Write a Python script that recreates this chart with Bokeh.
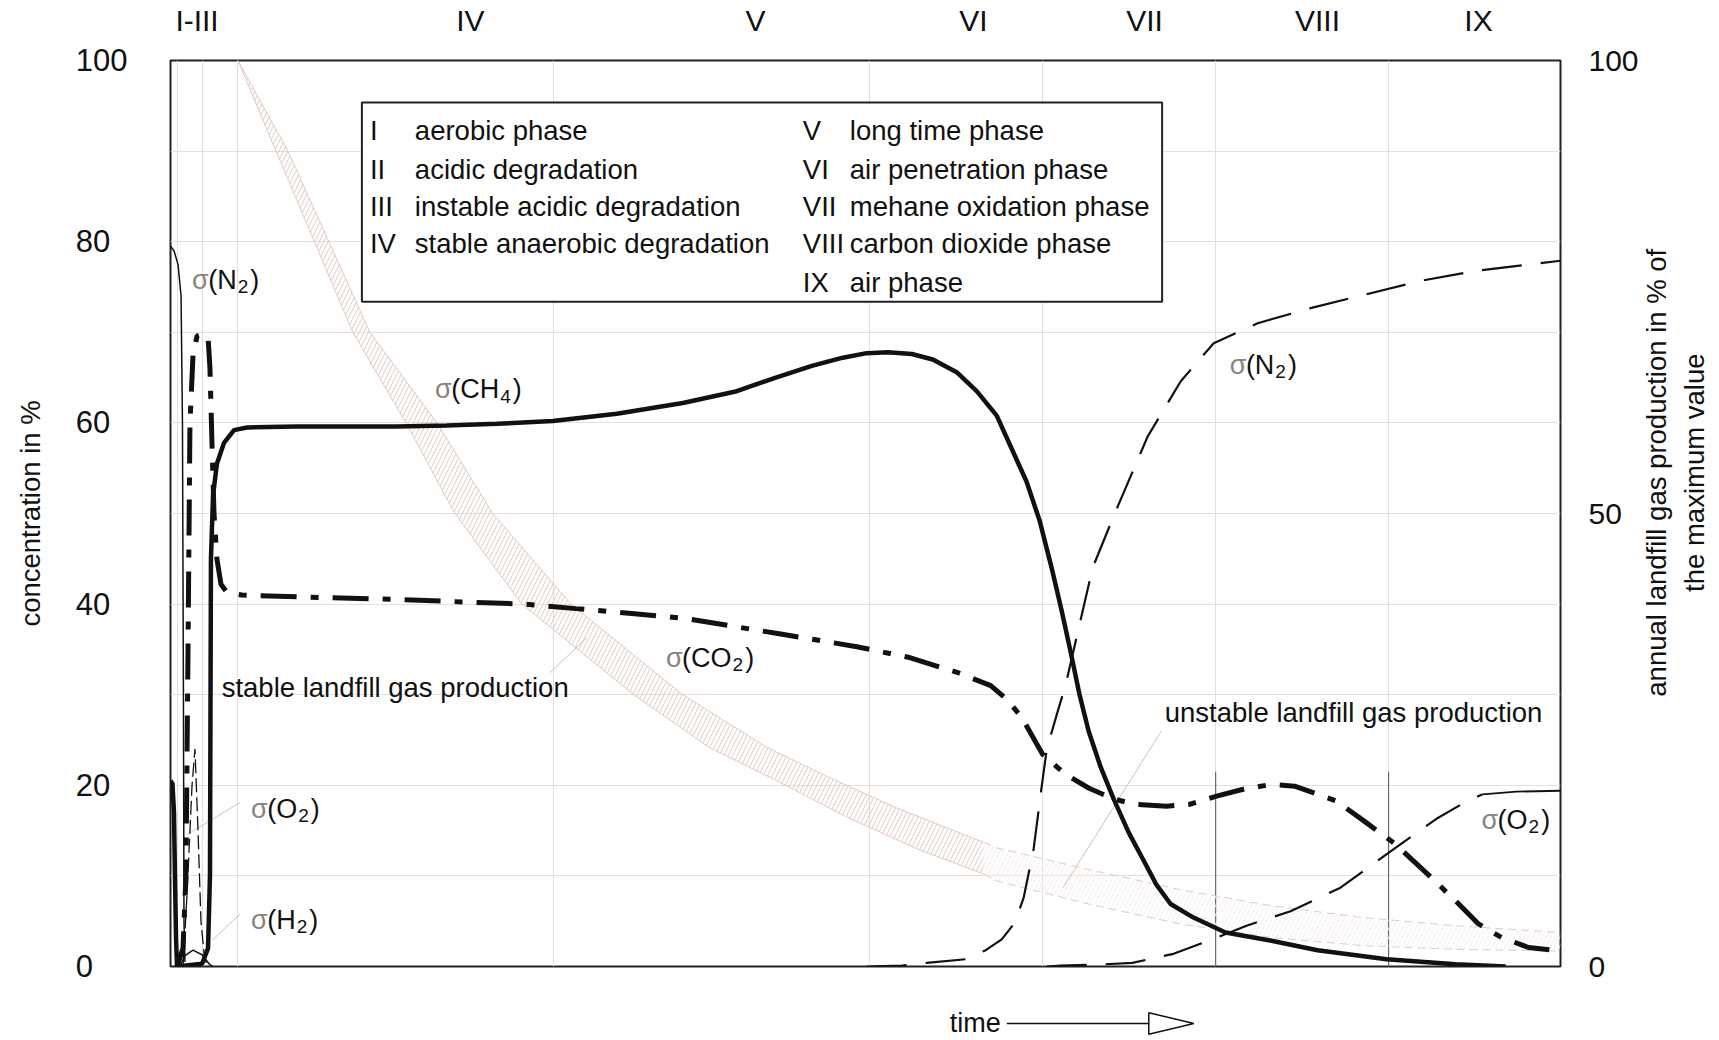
import math
from bokeh.plotting import figure
from bokeh.layouts import row, column
from bokeh.models import Range1d, LinearAxis, FixedTicker
from bokeh.core.properties import value
from bokeh.embed import file_html
from bokeh.resources import INLINE

FONT = "Liberation Sans"
INK = "#111111"
SIGMA = "#8a827e"
GRID = "#ecdcd8"
HATCH = "#e0cac3"
HATCH_LIGHT = "#f6eeeb"
LEADER = "#d2c0ba"
NBSP = "\u00a0"

# ---------------- data ----------------
# x: time, 0..100 across the plotted period; y: percent
left_ticks = [0, 20, 40, 60, 80, 100]
right_ticks = [0, 50, 100]
grid_y = [10, 20, 30, 40, 50, 60, 70, 80, 90]
grid_x = [0.52, 2.27, 4.85, 27.58, 50.31, 62.75, 75.19, 87.63]
dark_grid_x = [75.19, 87.63]
dark_grid_top = 21.5
phase_x = [1.91, 21.58, 42.08, 57.77, 70.07, 82.52, 94.1]
phase_labels = ["I-III", "IV", "V", "VI", "VII", "VIII", "IX"]

ch4_t = [0.47, 2.27, 2.70, 2.84, 2.88, 2.91, 3.06, 3.34, 3.85, 4.57, 5.50, 9.10, 16.29,
         19.88, 23.48, 27.51, 32.11, 36.86, 40.74, 43.55, 46.14, 48.37, 50.09, 51.60,
         53.33, 54.84, 56.56, 58.00, 59.44, 60.59, 61.59, 62.53, 63.39, 64.11, 64.76,
         65.40, 66.05, 66.92, 67.85, 68.93, 70.01, 70.94, 71.95, 73.60, 75.90, 79.21,
         82.52, 87.49, 92.45, 96.05]
ch4_v = [0, 0.3, 2, 10, 30, 45, 52, 55.5, 57.8, 59.2, 59.5, 59.6, 59.6,
         59.7, 59.9, 60.2, 61.0, 62.2, 63.5, 65.0, 66.3, 67.2, 67.7, 67.8,
         67.6, 67.0, 65.6, 63.5, 60.8, 56.9, 53.5, 49.2, 44.0, 39.3, 34.7,
         30.0, 26.0, 22.0, 18.5, 14.8, 11.7, 9.0, 6.9, 5.4, 3.75, 2.85,
         1.8, 0.8, 0.25, 0]

co2_t = [0.47, 0.90, 1.11, 1.26, 1.40, 1.62, 1.91, 2.34, 2.70, 2.84, 2.98, 3.13, 3.34,
         3.63, 4.06, 5.14, 9.10, 16.72, 19.95, 25.42, 29.16, 32.97, 37.15, 40.67, 43.90,
         49.37, 53.18, 56.71, 59.01, 60.16, 61.24, 62.75, 64.40, 66.05, 67.85, 69.36,
         71.66, 73.31, 75.26, 77.27, 79.21, 80.87, 83.82, 85.83, 88.13, 90.44, 92.45,
         94.10, 95.76, 97.70, 100.0]
co2_v = [0, 2, 10, 35, 60, 67.5, 69.6, 69.8, 69.5, 66, 58, 50, 45,
         42.2, 41.3, 41.0, 40.8, 40.5, 40.3, 40.0, 39.5, 39.0, 38.4, 37.5, 36.7,
         35.3, 34.1, 32.4, 31.0, 29.5, 27.5, 23.4, 21.2, 19.7, 18.5, 17.9,
         17.7, 17.9, 18.8, 19.6, 20.1, 19.9, 18.3, 16.1, 13.5, 10.2, 7.25,
         4.7, 3.2, 2.1, 1.7]

n2_early_t = [0, 0.25, 0.54, 0.76, 0.86, 0.93, 0.97, 1.04]
n2_early_v = [79.5, 79.0, 77.5, 74.0, 60.0, 30.0, 5.0, 0.5]

o2_early_t = [0, 0.14, 0.25, 0.32, 0.40, 0.47]
o2_early_v = [20.5, 20.2, 17.0, 10.0, 3.0, 0]

h2_peak_t = [0.90, 1.19, 1.55, 1.76, 1.98, 2.19, 2.41, 2.62]
h2_peak_v = [0, 8, 20, 24, 15, 5, 1.5, 0]

h2_arc_t = [0.68, 1.04, 1.62, 2.27, 2.77, 3.06]
h2_arc_v = [0, 1.2, 1.8, 1.3, 0.3, 0]

n2_late_t = [50.09, 52.61, 54.41, 57.21, 58.65, 59.80, 60.73, 61.38, 62.10, 62.60,
             63.04, 63.76, 64.40, 66.34, 67.93, 70.30, 72.68, 75.05, 78.21, 82.09,
             86.05, 90.00, 93.96, 100.0]
n2_late_v = [0, 0.1, 0.4, 0.8, 1.8, 3.0, 4.8, 7.6, 13, 19,
             24, 27.8, 31.1, 44, 50, 58.5, 64.6, 68.8, 71, 72.7,
             74.2, 75.7, 76.8, 77.9]

o2_late_t = [63.04, 64.04, 66.63, 69.21, 72.16, 74.96, 77.41, 80.58, 84.17, 88.13,
             91.08, 93.10, 94.39]
o2_late_v = [0, 0.1, 0.2, 0.4, 1.4, 3.0, 4.5, 6.1, 8.7, 13.1,
             16.3, 18.1, 19.0]
o2_tail_t = [94.39, 96.83, 100.0]
o2_tail_v = [19.0, 19.3, 19.4]

# annual landfill gas production band (right axis, % of maximum)
band_up_t = [4.85, 8.45, 14.35, 19.17, 23.19, 28.80, 36.86, 42.90, 47.21, 52.24, 58.5]
band_up_v = [100, 90, 70, 60, 50, 40, 30, 24.2, 21, 17.5, 13.7]
band_lo_t = [4.85, 7.59, 13.12, 16.94, 20.46, 25.28, 33.33, 38.73, 43.62, 48.65, 53.68, 58.5]
band_lo_v = [100, 90, 70, 60, 50, 40, 30, 24.2, 20.5, 16.5, 13.0, 10.2]
tail_t = [58.5, 59.44, 66.05, 72.6, 79.2, 85.83, 92.45, 100.0]
tail_up_v = [13.7, 13.1, 10.7, 8.5, 6.7, 5.4, 4.5, 3.75]
tail_lo_v = [10.2, 9.45, 6.9, 4.7, 3.2, 2.3, 1.9, 1.7]

legend_num_1 = ["I", "II", "III", "IV"]
legend_txt_1 = ["aerobic phase", "acidic degradation", "instable acidic degradation",
                "stable anaerobic degradation"]
legend_num_2 = ["V", "VI", "VII", "VIII", "IX"]
legend_txt_2 = ["long time phase", "air penetration phase", "mehane oxidation phase",
                "carbon dioxide phase", "air phase"]
legend_row_v = [92.24, 87.99, 83.91, 79.77, 75.52]

sig_t = [1.55, 19.03, 35.64, 5.79, 5.79, 76.2, 94.31]
sig_v = [75.79, 63.71, 34.09, 17.43, 5.18, 66.41, 16.22]
sig_body = ["(N", "(CH", "(CO", "(O", "(H", "(N", "(O"]
sig_sub = ["2", "4", "2", "2", "2", "2", "2"]

right_title = ["annual landfill gas production in % of", "the maximum value"]
time_label = "time"

# ---------------- layout constants (pixels) ----------------
LB, FW, FH, TB, BB = 170, 1390, 906, 55, 30
RB = 72
STRIP_W = 78

# ---------------- main figure ----------------
p = figure(frame_width=FW, frame_height=FH,
           x_range=Range1d(0, 100), y_range=Range1d(0, 100),
           output_backend="svg", toolbar_location=None,
           min_border_left=LB, min_border_right=RB,
           min_border_top=TB, min_border_bottom=BB,
           background_fill_color="white", border_fill_color="white",
           outline_line_color="#222222", outline_line_width=2)

p.xaxis.visible = False
p.xgrid.ticker = FixedTicker(ticks=grid_x)
p.ygrid.ticker = FixedTicker(ticks=grid_y)
for g in (p.xgrid[0], p.ygrid[0]):
    g.grid_line_color = GRID
    g.grid_line_width = 1

# left tick labels are left-aligned in the original: pad shorter ones with no-break spaces
widest = max(len(str(t)) for t in left_ticks)
left_overrides = {t: str(t) + NBSP * (2 * (widest - len(str(t)))) for t in left_ticks}

ya = p.yaxis[0]
ya.ticker = FixedTicker(ticks=left_ticks)
ya.major_label_overrides = left_overrides
ya.axis_line_color = None
ya.major_tick_line_color = None
ya.minor_tick_line_color = None
ya.major_label_text_font = FONT
ya.major_label_text_font_size = "31px"
ya.major_label_text_color = INK
ya.major_label_text_align = "left"
ya.major_label_standoff = 37
ya.axis_label = "concentration in %"
ya.axis_label_text_font = FONT
ya.axis_label_text_font_size = "27.5px"
ya.axis_label_text_font_style = "normal"
ya.axis_label_text_color = INK
ya.axis_label_standoff = 27

ra = LinearAxis(ticker=FixedTicker(ticks=right_ticks))
ra.axis_line_color = None
ra.major_tick_line_color = None
ra.minor_tick_line_color = None
ra.major_label_text_font = FONT
ra.major_label_text_font_size = "30px"
ra.major_label_text_color = INK
ra.major_label_standoff = 22
p.add_layout(ra, "right")

ta = LinearAxis(ticker=FixedTicker(ticks=phase_x),
                major_label_overrides={x: l for x, l in zip(phase_x, phase_labels)})
ta.axis_line_color = None
ta.major_tick_line_color = None
ta.minor_tick_line_color = None
ta.major_label_text_font = FONT
ta.major_label_text_font_size = "30px"
ta.major_label_text_color = INK
ta.major_label_standoff = 18
p.add_layout(ta, "above")

# darker grid segments in phases VII / VIII
p.segment(x0=dark_grid_x, y0=[0] * len(dark_grid_x), x1=dark_grid_x,
          y1=[dark_grid_top] * len(dark_grid_x), line_color="#6a6a6a", line_width=1.2)

# hatched band
band_xs = band_up_t + band_lo_t[::-1]
band_ys = band_up_v + band_lo_v[::-1]
p.patch(band_xs, band_ys, fill_color=None, line_color=None,
        hatch_pattern="/", hatch_color=HATCH, hatch_scale=9, hatch_weight=1)
p.varea(x=tail_t, y1=tail_lo_v, y2=tail_up_v, fill_color=None,
        hatch_pattern="/", hatch_color=HATCH_LIGHT, hatch_scale=9, hatch_weight=1)
p.line(band_up_t, band_up_v, line_color=HATCH, line_width=1)
p.line(band_lo_t, band_lo_v, line_color=HATCH, line_width=1)
p.line(tail_t, tail_up_v, line_color=HATCH, line_width=1, line_dash="8 5")
p.line(tail_t, tail_lo_v, line_color=HATCH, line_width=1, line_dash="8 5")

# legend box
p.quad(left=13.77, right=71.34, bottom=73.36, top=95.36,
       fill_color="white", line_color="#222222", line_width=2)
txt = dict(text_font=value(FONT), text_font_size="27.5px", text_color=INK,
           text_baseline="middle", text_align="left")
p.text(x=[14.35] * 4, y=legend_row_v[:4], text=legend_num_1, **txt)
p.text(x=[17.58] * 4, y=legend_row_v[:4], text=legend_txt_1, **txt)
p.text(x=[45.49] * 5, y=legend_row_v, text=legend_num_2, **txt)
p.text(x=[48.87] * 5, y=legend_row_v, text=legend_txt_2, **txt)

# leader lines
p.segment(x0=[4.99, 5.0, 27.29, 71.3], y0=[18.09, 5.77, 32.43, 26.03],
          x1=[1.19, 2.98, 29.96, 64.22], y1=[14.56, 2.87, 36.29, 8.71],
          line_color=LEADER, line_width=1)

# curves
p.line(n2_early_t, n2_early_v, line_color=INK, line_width=1.5)
p.line(h2_arc_t, h2_arc_v, line_color=INK, line_width=1.5)
p.line(h2_peak_t, h2_peak_v, line_color=INK, line_width=1.3, line_dash="14 5")
p.line(o2_early_t, o2_early_v, line_color=INK, line_width=4.5)
p.line(co2_t, co2_v, line_color=INK, line_width=5, line_dash="36 14 8 14")
p.line(ch4_t, ch4_v, line_color=INK, line_width=4.5)
p.line(n2_late_t, n2_late_v, line_color=INK, line_width=2.2, line_dash="40 19")
p.line(o2_late_t, o2_late_v, line_color=INK, line_width=2.2, line_dash="40 19")
p.line(o2_tail_t, o2_tail_v, line_color=INK, line_width=1.8)

p.text(x=[3.68], y=[30.82], text=["stable landfill gas production"], **txt)
p.text(x=[71.53], y=[28.02], text=["unstable landfill gas production"], **txt)

# sigma labels: grey sigma, black body, lowered subscript
W = {"(": 0.333, "N": 0.722, "C": 0.722, "H": 0.722, "O": 0.778}
fs = 27
sig_w = 0.6 * fs
body_off = [sig_w] * len(sig_body)
sub_off = [sig_w + sum(W[c] for c in b) * fs + 1 for b in sig_body]
close_off = [o + 0.556 * 19 + 2 for o in sub_off]
sig_style = dict(text_font=value(FONT), text_baseline="middle", text_align="left")
p.text(x=sig_t, y=sig_v, text=["σ"] * len(sig_t), text_color=SIGMA,
       text_font_size="27px", **sig_style)
p.text(x=sig_t, y=sig_v, text=sig_body, x_offset=body_off, text_color=INK,
       text_font_size="27px", **sig_style)
p.text(x=sig_t, y=sig_v, text=sig_sub, x_offset=sub_off, y_offset=7, text_color=INK,
       text_font_size="19px", **sig_style)
p.text(x=sig_t, y=sig_v, text=[")"] * len(sig_t), x_offset=close_off, text_color=INK,
       text_font_size="27px", **sig_style)

# ---------------- right strip: right-axis title ----------------
pr = figure(frame_width=STRIP_W, frame_height=FH, x_range=Range1d(0, STRIP_W),
            y_range=p.y_range, output_backend="svg", toolbar_location=None,
            min_border_left=0, min_border_right=0, min_border_top=TB, min_border_bottom=BB,
            x_axis_type=None, y_axis_type=None, outline_line_color=None,
            background_fill_color="white", border_fill_color="white")
pr.grid.visible = False
pr.text(x=[14.5, 52.5], y=[54.5, 54.5], text=right_title, angle=math.pi / 2,
        text_align="center", text_baseline="middle", text_font=value(FONT),
        text_font_size="27.5px", text_color=INK)

# ---------------- bottom strip: time arrow ----------------
pb = figure(frame_width=FW, frame_height=41, x_range=p.x_range, y_range=Range1d(0, 41),
            output_backend="svg", toolbar_location=None,
            min_border_left=LB, min_border_right=RB + STRIP_W,
            min_border_top=0, min_border_bottom=0,
            x_axis_type=None, y_axis_type=None, outline_line_color=None,
            background_fill_color="white", border_fill_color="white")
pb.grid.visible = False
pb.text(x=[57.9], y=[15], text=[time_label], text_align="center", text_baseline="middle",
        text_font=value(FONT), text_font_size="27px", text_color=INK)
pb.segment(x0=[60.17], y0=[14], x1=[70.38], y1=[14], line_color=INK, line_width=1.5)
pb.patch([70.38, 73.62, 70.38], [24.8, 14, 3.2], fill_color="white",
         line_color=INK, line_width=1.5)

layout = column(row(p, pr), pb)
open("out.html", "w").write(file_html(layout, INLINE))
